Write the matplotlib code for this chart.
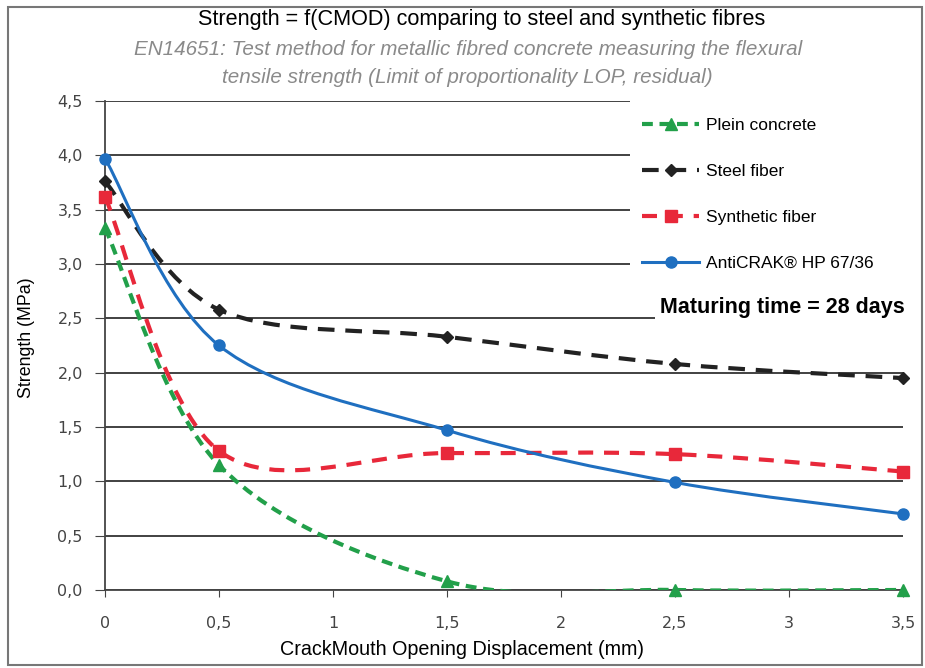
import numpy as np
import matplotlib.pyplot as plt
from matplotlib.path import Path
from matplotlib.patches import PathPatch, Rectangle
from matplotlib.lines import Line2D

# CMOD (mm) and strength (MPa)
cmod = [0, 0.5, 1.5, 2.5, 3.5]
plein = [3.33, 1.15, 0.08, 0.0, 0.0]
steel = [3.76, 2.58, 2.33, 2.08, 1.95]
synthetic = [3.62, 1.28, 1.26, 1.25, 1.09]
anticrak = [3.97, 2.25, 1.47, 0.99, 0.70]

labels = ['Plein concrete', 'Steel fiber', 'Synthetic fiber', 'AntiCRAK\u00ae HP 67/36']
xtick_labels = ['0', '0,5', '1', '1,5', '2', '2,5', '3', '3,5']
ytick_labels = ['0,0', '0,5', '1,0', '1,5', '2,0', '2,5', '3,0', '3,5', '4,0', '4,5']

SANS = 'Liberation Sans'


def smooth_path(xs, ys):
    # Excel style smoothed line: Catmull-Rom segments as cubic Bezier
    pts = np.column_stack([xs, ys])
    verts = [pts[0]]
    codes = [Path.MOVETO]
    n = len(pts)
    for i in range(n - 1):
        p0 = pts[i - 1] if i > 0 else pts[i]
        p1 = pts[i]
        p2 = pts[i + 1]
        p3 = pts[i + 2] if i + 2 < n else pts[i + 1]
        c1 = p1 + (p2 - p0) / 6
        c2 = p2 - (p3 - p1) / 6
        verts += [c1, c2, p2]
        codes += [Path.CURVE4] * 3
    return Path(verts, codes)


fig = plt.figure(figsize=(9.25, 6.68), dpi=100)
ax = fig.add_axes([0.1135, 0.1168, 0.8627, 0.7320])

# outer frame
fig.patches.append(Rectangle((0.009, 0.005), 0.988, 0.984, transform=fig.transFigure,
                             fill=False, edgecolor='#777777', linewidth=1.5))

series = [
    (plein, '#22a04a', (0, (2.6, 1.6)), '^', 8),
    (steel, '#222222', (0, (4, 2.6)), 'D', 6.5),
    (synthetic, '#e8283a', (0, (3.6, 2.6)), 's', 8),
    (anticrak, '#1f6fc0', '-', 'o', 8),
]

handles = []
for (vals, col, ls, mk, ms), lab in zip(series, labels):
    lw = 3 if ls != '-' else 2.2
    patch = PathPatch(smooth_path(cmod, vals), facecolor='none', edgecolor=col,
                      linewidth=lw, linestyle=ls, zorder=3)
    ax.add_patch(patch)
    ax.plot(cmod, vals, linestyle='none', marker=mk, markersize=ms, color=col,
            zorder=4, clip_on=False)
    handles.append(Line2D([], [], color=col, linestyle=ls, linewidth=lw,
                          marker=mk, markersize=ms, label=lab))

ax.set_xlim(0, 3.5)
ax.set_ylim(0, 4.5)
ax.set_xticks(np.arange(0, 3.51, 0.5))
ax.set_xticklabels(xtick_labels)
ax.set_yticks(np.arange(0, 4.51, 0.5))
ax.set_yticklabels(ytick_labels)
ax.tick_params(colors='#444444', labelsize=11.5, direction='out', length=7)
ax.tick_params(axis='x', pad=14, length=5)
ax.tick_params(axis='y', pad=9)

ax.grid(axis='y', color='#333333', linewidth=1.3)
ax.set_axisbelow(True)
for s in ['top', 'right']:
    ax.spines[s].set_visible(False)
for s in ['left', 'bottom']:
    ax.spines[s].set_color('#444444')
    ax.spines[s].set_linewidth(1.3)

# white areas behind the legend and the note, hiding the grid there
ax.add_patch(Rectangle((0.658, 0.615), 0.4, 0.4, transform=ax.transAxes,
                       facecolor='white', edgecolor='none', zorder=1, clip_on=False))
ax.add_patch(Rectangle((0.689, 0.545), 0.4, 0.08, transform=ax.transAxes,
                       facecolor='white', edgecolor='none', zorder=1, clip_on=False))

fig.text(0.5, 0.027, 'CrackMouth Opening Displacement (mm)', ha='center', va='center',
         fontsize=14.2, family=SANS)
fig.text(0.029, 0.494, 'Strength (MPa)', ha='center', va='center', rotation=90,
         fontsize=12.8, family=SANS)

leg = ax.legend(handles=handles, loc='upper left', bbox_to_anchor=(0.649, 1.005),
                frameon=False, prop={'family': SANS, 'size': 12.5}, labelspacing=1.78,
                handlelength=3.3, handletextpad=0.4, borderpad=0.6)

ax.text(1.002, 0.577, 'Maturing time = 28 days', transform=ax.transAxes,
        ha='right', va='center', fontsize=15.5, fontweight='bold', family=SANS, zorder=5)

fig.text(0.521, 0.971, 'Strength = f(CMOD) comparing to steel and synthetic fibres',
         ha='center', va='center', fontsize=15.6, family=SANS)
fig.text(0.506, 0.926, 'EN14651: Test method for metallic fibred concrete measuring the flexural',
         ha='center', va='center', fontsize=14.9, style='italic', color='#8a8a8a', family=SANS)
fig.text(0.505, 0.884, 'tensile strength (Limit of proportionality LOP, residual)',
         ha='center', va='center', fontsize=14.85, style='italic', color='#8a8a8a', family=SANS)

fig.savefig('out.png', dpi=100)
